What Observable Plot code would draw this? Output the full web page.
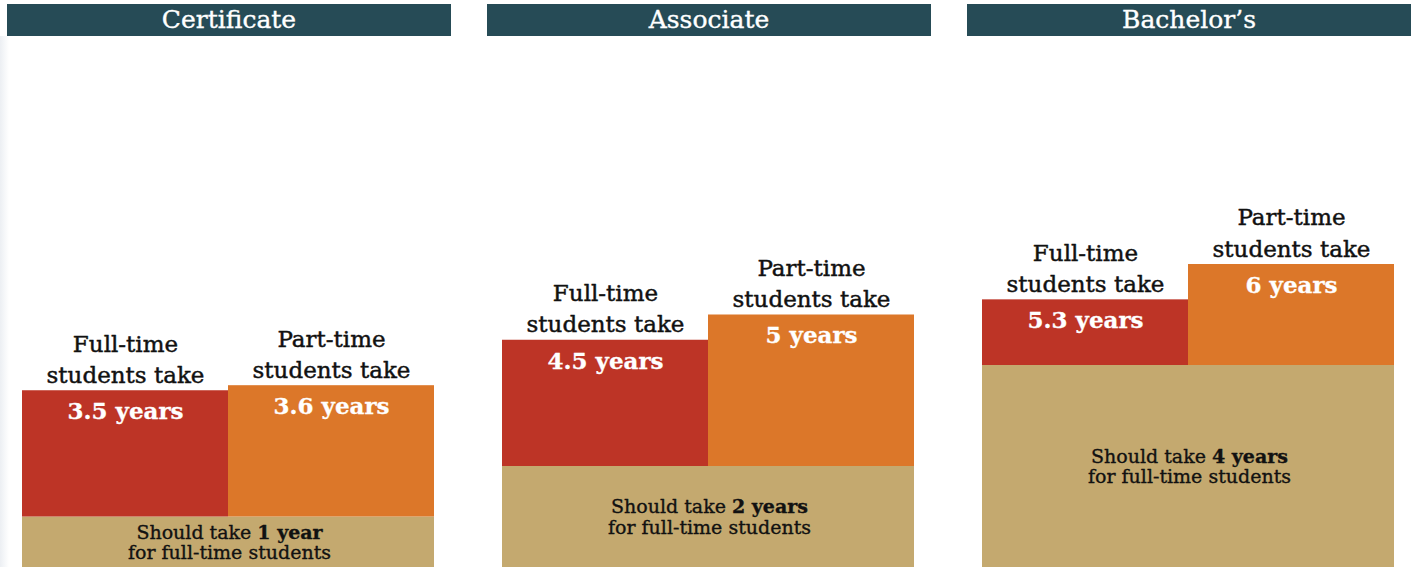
<!DOCTYPE html>
<html><head><meta charset="utf-8">
<script src="https://cdn.jsdelivr.net/npm/d3@7"></script>
<script src="https://cdn.jsdelivr.net/npm/@observablehq/plot@0.6"></script>
<style>
body{margin:0;background:#fff;width:1415px;height:567px;overflow:hidden;position:relative;font-family:"DejaVu Serif",serif;}
#headers{position:absolute;top:4px;left:0;width:1415px;height:32px;}
.hdr{position:absolute;top:0;height:32px;background:#264b56;color:#fff;font-size:25px;line-height:32px;text-align:center;-webkit-text-stroke:0.35px #fff;}
#chart{position:absolute;left:0;top:40px;}
#edge{position:absolute;left:0;top:36px;width:9px;bottom:0;background:linear-gradient(to right,#eceff3,#fff);}
</style></head><body>
<div id="edge"></div>
<div id="headers"></div>
<div id="chart"></div>
<script>
const degrees = ["Certificate", "Associate", "Bachelor’s"];
const shouldTake = [1, 2, 4];
const fullTime = [3.5, 4.5, 5.3];
const partTime = [3.6, 5, 6];
const types = ["Full-time", "Part-time"];
const typeLabels = ["Full-time\nstudents take", "Part-time\nstudents take"];

const H = 527;
const FONT = '"DejaVu Serif",serif';
const base = degrees.map((d, i) => ({degree: d, years: shouldTake[i]}));
const bars = degrees.flatMap((d, i) => [
  {degree: d, type: types[0], label: typeLabels[0], base: shouldTake[i], years: fullTime[i]},
  {degree: d, type: types[1], label: typeLabels[1], base: shouldTake[i], years: partTime[i]}
]);
const yr = v => `${v} year${v === 1 ? "" : "s"}`;

const plot = Plot.plot({
  width: 1415, height: H,
  marginTop: 0, marginBottom: 0, marginLeft: 7, marginRight: 4,
  style: {fontFamily: FONT, background: "transparent", overflow: "visible"},
  fx: {domain: degrees, paddingInner: 0.075, paddingOuter: 0, axis: null, label: null},
  x: {domain: types, padding: 0, insetLeft: 15, insetRight: 17, axis: null},
  y: {domain: [0, H / 50.5], axis: null},
  color: {domain: types, range: ["#bd3426", "#dc7729"]},
  marks: [
    Plot.barY(base, {fx: "degree", y1: 0, y2: "years", fill: "#c4a96f", insetLeft: 15, insetRight: 17}),
    Plot.barY(bars, {fx: "degree", x: "type", y1: "base", y2: "years", fill: "type"}),
    Plot.text(bars, {fx: "degree", x: "type", y: "years", text: "label", lineAnchor: "bottom", dy: -8,
      fontSize: 23, lineHeight: 1.35, fill: "#111", stroke: "#111", strokeWidth: 0.45}),
    Plot.text(bars, {fx: "degree", x: "type", y: "years", text: d => yr(d.years), lineAnchor: "middle", dy: 21,
      fontSize: 23, fontWeight: "bold", fill: "#fff", stroke: "#fff", strokeWidth: 0.3}),
    Plot.text(base, {fx: "degree", y: d => d.years / 2, text: d => `Should take ${yr(d.years)}\nfor full-time students`,
      lineAnchor: "middle", fontSize: 19, lineHeight: 1.08, fill: "#111", stroke: "#111", strokeWidth: 0.35})
  ]
});
document.getElementById("chart").appendChild(plot);

// bold the "N year(s)" part of the base labels
plot.querySelectorAll("text tspan, text").forEach(el => {
  if (el.childElementCount) return;
  const t = el.textContent;
  const m = t.match(/^(Should take )(.+)$/);
  if (!m) return;
  el.textContent = m[1];
  const b = document.createElementNS("http://www.w3.org/2000/svg", "tspan");
  b.setAttribute("font-weight", "bold");
  b.textContent = m[2];
  el.appendChild(b);
});

// headers aligned with the facet bands
const fx = plot.scale("fx");
const band = d3.scaleBand().domain(fx.domain).range(fx.range).paddingInner(0.075).paddingOuter(0);
const hdr = document.getElementById("headers");
degrees.forEach(d => {
  const x = fx.apply ? fx.apply(d) : band(d);
  const div = document.createElement("div");
  div.className = "hdr";
  div.style.left = x + "px";
  div.style.width = (fx.bandwidth ?? band.bandwidth()) + "px";
  div.textContent = d;
  hdr.appendChild(div);
});
</script>
</body></html>
